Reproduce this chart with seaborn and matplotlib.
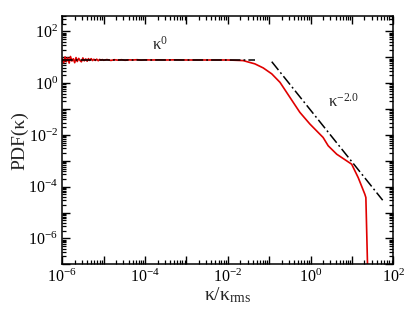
import numpy as np
import pandas as pd
import seaborn as sns
import matplotlib
matplotlib.use('Agg')
import matplotlib.pyplot as plt
from matplotlib.ticker import FixedLocator, FuncFormatter, NullFormatter

# PDF of curvature
kappa = [1.0e-6, 1.08e-6, 1.17e-6, 1.26e-6, 1.36e-6, 1.47e-6, 1.58e-6, 1.71e-6,
         1.85e-6, 2.0e-6, 2.15e-6, 2.3e-6, 2.5e-6, 2.7e-6, 2.9e-6, 3.15e-6,
         3.4e-6, 3.7e-6, 4.0e-6, 4.3e-6, 4.6e-6, 5.0e-6, 5.4e-6, 5.8e-6,
         6.3e-6, 6.8e-6, 7.4e-6, 8.0e-6, 8.6e-6, 9.3e-6, 1.0e-5, 1.2e-5,
         1.5e-5, 1.8e-5, 2.2e-5, 2.7e-5, 3.3e-5, 4.0e-5, 5.0e-5, 6.5e-5,
         8.0e-5, 1.0e-4, 1.5e-4, 2.2e-4, 3.3e-4, 5.0e-4, 1.0e-3, 3.0e-3,
         1.0e-2, 0.0234, 0.045, 0.0716, 0.115, 0.182, 0.316, 0.55, 0.96,
         2.0, 2.66, 4.27, 7.4, 9.8, 14.1, 20.4, 21.6, 24.5]
pdf = [8.6, 6.2, 10.4, 6.8, 9.6, 6.0, 10.8, 7.2, 8.8, 6.2, 9.8, 6.9, 9.1,
       7.5, 6.7, 9.5, 7.3, 8.7, 7.1, 8.9, 7.6, 8.9, 7.5, 8.4, 7.6, 8.5,
       7.4, 8.3, 7.8, 8.2, 7.7, 8.2, 7.6, 8.1, 7.8, 8.1, 7.7, 8.0, 7.9,
       8.1, 7.8, 8.0, 7.9, 8.0, 7.9, 8.0, 7.9, 7.9, 7.9, 7.5, 5.6, 3.9,
       2.3, 1.08, 0.284, 0.0745, 0.0264, 0.008, 0.0038, 0.0018, 1.0e-3,
       7.4e-4, 2.24e-4, 5.1e-5, 3.8e-5, 1.0e-8]

# reference power laws
k0_x = [1.0e-6, 0.045]
k0_y = [8.0, 8.0]
k2_x = [0.115, 55.0]
k2_y = [6.8, 3.0e-5]

x_decades = list(range(-6, 3))
y_decades = list(range(-7, 3))

df = pd.DataFrame({'kappa': kappa, 'pdf': pdf})

sns.set_style('ticks')
plt.rcParams['font.family'] = ['Liberation Serif', 'DejaVu Serif']
plt.rcParams['mathtext.fontset'] = 'custom'
plt.rcParams['mathtext.rm'] = 'Liberation Serif'
plt.rcParams['mathtext.it'] = 'Liberation Serif'
plt.rcParams['xtick.minor.visible'] = True
plt.rcParams['ytick.minor.visible'] = True

fig = plt.figure(figsize=(4.15, 3.12), dpi=100)
ax = fig.add_axes([0.150, 0.153, 0.798, 0.796])

sns.lineplot(data=df, x='kappa', y='pdf', color='#e00000', linewidth=1.2,
             estimator=None, sort=False, ax=ax)
ax.plot(k0_x, k0_y, color='black', linewidth=1.1, dashes=[7, 2, 1.2, 2])
ax.plot(k2_x, k2_y, color='black', linewidth=1.1, dashes=[7, 2, 1.2, 2])

ax.set_xscale('log')
ax.set_yscale('log')
ax.set_xlim(1e-6, 1e2)
ax.set_ylim(1e-7, 400)

def even_decades(v, pos):
    e = int(round(np.log10(v)))
    return r'$\mathregular{10^{%d}}$' % e if e % 2 == 0 else ''

for axis, decs in ((ax.xaxis, x_decades), (ax.yaxis, y_decades)):
    major = [10.0 ** d for d in decs]
    minor = [k * 10.0 ** d for d in decs for k in range(2, 10)]
    axis.set_major_locator(FixedLocator(major))
    axis.set_minor_locator(FixedLocator(minor))
    axis.set_major_formatter(FuncFormatter(even_decades))
    axis.set_minor_formatter(NullFormatter())

ax.tick_params(which='both', direction='in', top=True, right=True,
               bottom=True, left=True, labelsize=11.5, color='black',
               labelcolor='black', pad=3)
ax.tick_params(which='major', length=5.5, width=1.0)
ax.tick_params(which='minor', length=3.0, width=0.9)
for s in ax.spines.values():
    s.set_linewidth(1.1)
    s.set_color('black')

ax.set_xlabel(r'κ/κ$_{\mathregular{rms}}$', fontsize=14, labelpad=0)
ax.set_ylabel('PDF(κ)', fontsize=14, labelpad=0)

ax.text(1.45e-4, 31, r'κ$^{\mathregular{0}}$', fontsize=12, va='center')
ax.text(2.6, 0.19, r'κ$^{\mathregular{-2.0}}$', fontsize=12, va='center')

fig.savefig('out.png', dpi=100)
